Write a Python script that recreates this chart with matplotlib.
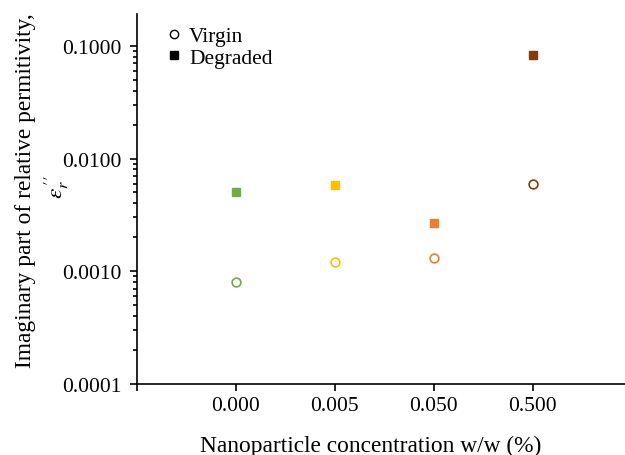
import matplotlib
matplotlib.use("Agg")
import matplotlib.pyplot as plt
from matplotlib.lines import Line2D
from matplotlib.ticker import LogLocator, NullFormatter, FixedLocator
import numpy as np

plt.rcParams["font.family"] = ["Liberation Serif", "DejaVu Serif"]
plt.rcParams["mathtext.fontset"] = "stix"

# data
categories = ["0.000", "0.005", "0.050", "0.500"]
virgin = [0.0008, 0.0012, 0.0013, 0.0060]
degraded = [0.0050, 0.0058, 0.0027, 0.0830]
colors = ["#70AD47", "#FFC000", "#ED7D31", "#843C0C"]

fig = plt.figure(figsize=(6.25, 4.56), dpi=100)
ax = fig.add_axes([0.219, 0.156, 0.781, 0.811])

x = np.arange(1, len(categories) + 1)

for i in range(len(categories)):
    ax.plot(x[i], virgin[i], linestyle="none", marker="o", markersize=6.3,
            markerfacecolor="white", markeredgecolor=colors[i], markeredgewidth=1.2)
    ax.plot(x[i], degraded[i], linestyle="none", marker="s", markersize=6,
            markerfacecolor=colors[i], markeredgecolor=colors[i])

ax.set_yscale("log")
ax.set_ylim(0.0001, 10 ** (-1 + 0.283))
ax.set_xlim(0, 4.93)

ax.set_yticks([0.0001, 0.001, 0.01, 0.1])
ax.set_yticklabels(["0.0001", "0.0010", "0.0100", "0.1000"])
ax.yaxis.set_minor_locator(LogLocator(base=10, subs=np.arange(2, 10)))
ax.yaxis.set_minor_formatter(NullFormatter())

ax.xaxis.set_major_locator(FixedLocator([0, 1, 2, 3, 4]))
ax.set_xticklabels([""] + categories)

ax.tick_params(axis="both", which="major", direction="out", length=5, width=1.2,
               labelsize=15.5, colors="black")
ax.tick_params(axis="y", which="minor", direction="out", length=3, width=1.2)
ax.tick_params(axis="y", which="major", pad=6)
ax.tick_params(axis="x", pad=4)

for s in ["top", "right"]:
    ax.spines[s].set_visible(False)
for s in ["left", "bottom"]:
    ax.spines[s].set_linewidth(1.2)

ax.set_xlabel("Nanoparticle concentration w/w (%)", fontsize=16.8)
ax.xaxis.set_label_coords(0.478, -0.139)

# y label: text line plus the symbol on its own line
ax.set_ylabel("Imaginary part of relative permitivity,", fontsize=16.8)
ax.yaxis.set_label_coords(-0.207, 0.524)
ax.text(-0.165, 0.535, "$\\varepsilon_r^{\\,\\prime\\prime}$", transform=ax.transAxes,
        rotation=90, ha="center", va="center", fontsize=16.8)

legend_elements = [
    Line2D([0], [0], linestyle="none", marker="o", markersize=6,
           markerfacecolor="white", markeredgecolor="black", label="Virgin"),
    Line2D([0], [0], linestyle="none", marker="s", markersize=5.5,
           markerfacecolor="black", markeredgecolor="black", label="Degraded"),
]
ax.legend(handles=legend_elements, loc="upper left", bbox_to_anchor=(0.045, 0.99),
          frameon=False, fontsize=15.5, handlelength=0.6, handletextpad=0.4,
          labelspacing=0.05, borderaxespad=0)

fig.savefig("out.png", dpi=100)
